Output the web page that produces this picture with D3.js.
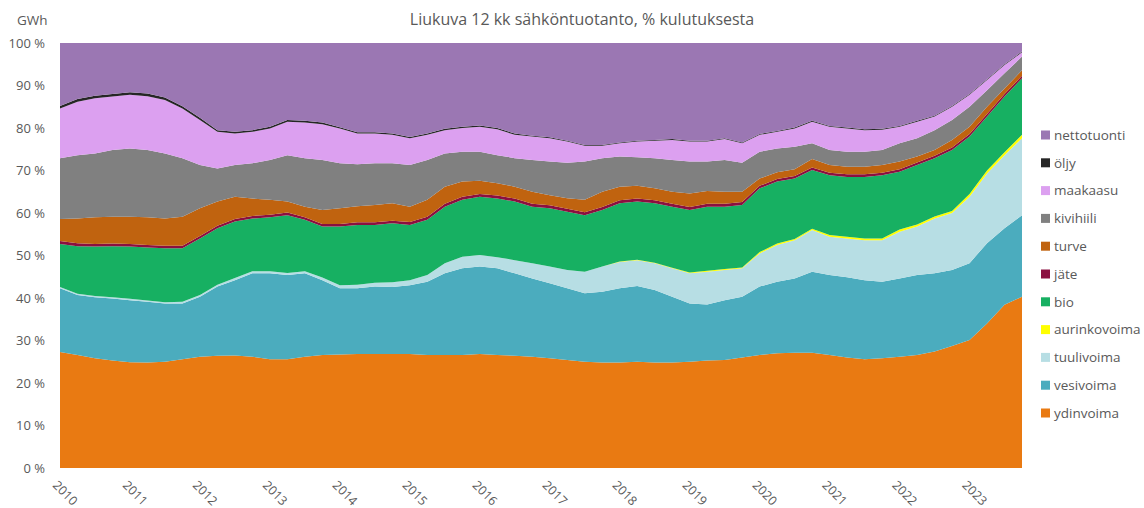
<!DOCTYPE html>
<html lang="fi">
<head>
<meta charset="UTF-8">
<title>Liukuva 12 kk sähköntuotanto</title>
<style>
  body { margin: 0; background: #fff; }
  text { font-family: "Open Sans", "DejaVu Sans", sans-serif; fill: #595959; }
</style>
</head>
<body>
<svg width="1144" height="508"></svg>
<script src="https://d3js.org/d3.v7.min.js"></script>
<script>
// quarterly readings, % of consumption (rolling 12 months)
const dates = [
  "2010-01","2010-04","2010-07","2010-10","2011-01","2011-04","2011-07","2011-10",
  "2012-01","2012-04","2012-07","2012-10","2013-01","2013-04","2013-07","2013-10",
  "2014-01","2014-04","2014-07","2014-10","2015-01","2015-04","2015-07","2015-10",
  "2016-01","2016-04","2016-07","2016-10","2017-01","2017-04","2017-07","2017-10",
  "2018-01","2018-04","2018-07","2018-10","2019-01","2019-04","2019-07","2019-10",
  "2020-01","2020-04","2020-07","2020-10","2021-01","2021-04","2021-07","2021-10",
  "2022-01","2022-04","2022-07","2022-10","2023-01","2023-04","2023-07","2023-10"
];

const ydinvoima = [27.3,26.6,25.8,25.3,24.9,24.8,25.0,25.6,26.2,26.4, 26.5,26.2,25.6,25.6,26.2,26.6,26.7,26.8,26.8,26.8,
  26.8,26.6,26.6,26.6,26.8,26.6,26.4,26.2,25.8,25.4, 25.0,24.8,24.8,25.0,24.8,24.8,25.0,25.3,25.4,26.0,
  26.6,27.0,27.1,27.1,26.6,26.0,25.6,25.8,26.2,26.6, 27.4,28.7,30.1,34.0,38.4,40.3];
const vesivoima = [15.0,14.1,14.4,14.6,14.6,14.3,13.7,13.1,14.1,16.3, 17.7,19.6,20.2,19.8,19.6,17.6,15.6,15.5,15.9,15.8,
  16.2,17.2,19.2,20.4,20.6,20.4,19.4,18.4,17.7,16.9, 16.1,16.7,17.5,17.8,17.1,15.5,13.7,13.2,14.1,14.3,
  16.1,16.8,17.5,19.1,18.8,18.9,18.6,18.0,18.4,18.8, 18.4,17.9,18.1,18.9,18.0,19.2];
const tuulivoima = [0.3,0.3,0.3,0.3,0.3,0.3,0.3,0.4,0.4,0.4, 0.5,0.5,0.5,0.5,0.5,0.6,0.7,0.8,0.9,1.1,
  1.2,1.6,2.4,2.7,2.7,2.6,3.1,3.6,3.9,4.3, 5.1,5.9,6.2,6.1,6.3,6.7,7.1,7.7,7.1,6.7,
  7.8,8.7,9.0,9.8,9.0,9.1,9.4,9.8,11.0,11.4, 12.9,13.4,15.6,16.4,17.2,18.1];
const aurinkovoima = [0,0,0,0,0,0,0,0,0,0, 0,0,0,0,0,0,0,0,0,0,
  0,0,0,0,0,0,0,0,0,0, 0,0,0.1,0.1,0.1,0.1,0.2,0.2,0.2,0.2,
  0.3,0.3,0.3,0.3,0.4,0.4,0.4,0.4,0.5,0.5, 0.5,0.5,0.7,0.7,0.7,0.8];
const bio = [10.1,11.2,11.6,12.0,12.3,12.5,12.7,12.6,13.3,13.3, 13.3,12.4,12.7,13.6,12.1,12.0,13.8,14.1,13.6,13.9,
  13.0,13.0,13.3,13.4,13.7,13.8,13.8,13.3,13.7,13.7, 13.3,13.3,13.7,13.7,14.0,14.4,14.7,15.1,14.7,14.7,
  15.0,14.6,14.2,13.8,14.1,14.1,14.5,14.9,13.6,14.0, 13.7,14.3,13.5,12.7,13.1,13.3];
const jate = [0.7,0.7,0.6,0.6,0.6,0.6,0.6,0.6,0.6,0.6, 0.6,0.6,0.6,0.6,0.6,0.6,0.6,0.6,0.6,0.6,
  0.7,0.7,0.7,0.7,0.7,0.7,0.7,0.7,0.7,0.7, 0.7,0.7,0.7,0.7,0.7,0.7,0.7,0.7,0.7,0.7,
  0.6,0.6,0.6,0.6,0.6,0.6,0.6,0.6,0.6,0.6, 0.6,0.6,0.6,0.6,0.6,0.6];
const turve = [5.2,5.8,6.3,6.3,6.4,6.5,6.4,6.8,6.5,5.7, 5.2,4.1,3.5,2.6,2.5,3.3,3.7,3.8,4.1,4.1,
  3.6,4.0,4.0,3.6,3.1,2.9,2.8,2.8,2.4,2.5, 2.9,3.6,3.2,3.0,2.8,2.8,3.2,3.0,2.8,2.4,
  1.7,1.6,1.6,2.0,1.8,1.8,1.8,1.8,1.8,1.4, 1.3,1.8,1.7,1.7,1.3,1.3];
const kivihiili = [14.3,14.9,15.0,15.7,16.1,15.8,15.3,13.8,10.2,7.8, 7.5,8.3,9.4,10.9,11.4,11.8,10.6,9.9,9.8,9.4,
  9.8,9.4,7.8,7.0,6.8,6.6,6.7,7.5,7.9,8.3, 9.0,7.9,7.1,6.7,7.1,7.5,7.5,6.9,7.5,6.8,
  6.3,5.6,5.3,3.7,3.5,3.5,3.5,3.5,4.3,4.3, 4.7,4.7,4.7,3.9,3.6,3.2];
const maakaasu = [11.7,12.6,13.0,12.6,12.6,12.7,12.6,11.7,10.6,8.6, 7.4,7.4,7.4,7.9,8.4,8.4,8.2,7.2,7.0,6.7,
  6.3,5.9,5.5,5.6,5.9,6.1,5.5,5.5,5.5,5.0, 3.7,2.9,3.1,3.7,4.1,4.7,4.7,4.7,4.9,4.6,
  4.0,3.9,4.3,5.1,5.5,5.5,5.1,4.8,3.9,3.9, 3.2,3.1,2.8,2.4,1.9,1.0];
const oljy = [0.6,0.6,0.6,0.6,0.6,0.6,0.6,0.5,0.5,0.4, 0.4,0.4,0.4,0.4,0.4,0.4,0.3,0.3,0.3,0.3,
  0.3,0.3,0.3,0.3,0.3,0.3,0.3,0.2,0.2,0.2, 0.2,0.2,0.2,0.2,0.2,0.2,0.2,0.2,0.2,0.2,
  0.2,0.2,0.2,0.2,0.2,0.2,0.2,0.2,0.2,0.2, 0.2,0.2,0.2,0.2,0.2,0.2];
const nettotuonti = [14.8,13.2,12.4,12.0,11.6,11.9,12.8,14.9,17.6,20.5, 20.9,20.5,19.7,18.1,18.3,18.7,19.8,21.0,21.0,21.3,
  22.1,21.3,20.2,19.7,19.4,20.0,21.3,21.8,22.2,23.0, 24.0,24.0,23.4,23.0,22.8,22.6,23.0,23.0,22.4,23.4,
  21.4,20.7,19.9,18.3,19.5,19.9,20.3,20.2,19.5,18.3, 17.1,14.8,12.0,8.5,5.0,2.0];

const seriesNames = ["ydinvoima","vesivoima","tuulivoima","aurinkovoima","bio","jäte","turve","kivihiili","maakaasu","öljy","nettotuonti"];
const seriesData = [ydinvoima, vesivoima, tuulivoima, aurinkovoima, bio, jate, turve, kivihiili, maakaasu, oljy, nettotuonti];
const seriesColors = ["#e97a12","#4bacbe","#b7dee4","#ffff00","#17b062","#8b1040","#c0630f","#808080","#dca0f0","#262626","#9b77b3"];
const yearLabels = [2010,2011,2012,2013,2014,2015,2016,2017,2018,2019,2020,2021,2022,2023];
const yTicks = [0,10,20,30,40,50,60,70,80,90,100];

const svg = d3.select("svg");
const plotLeft = 60, plotRight = 1022, plotTop = 43, plotBottom = 468;

const toYear = s => +s.slice(0, 4) + (+s.slice(5, 7) - 1) / 12;

const rows = dates.map((d, i) => {
  const r = { t: toYear(d) };
  seriesNames.forEach((k, j) => r[k] = seriesData[j][i]);
  return r;
});

const x = d3.scaleLinear().domain([2010, toYear(dates[dates.length - 1])]).range([plotLeft, plotRight]);
const y = d3.scaleLinear().domain([0, 100]).range([plotBottom, plotTop]);

const stacked = d3.stack().keys(seriesNames)(rows);

const area = d3.area()
  .x(d => x(d.data.t))
  .y0(d => y(d[0]))
  .y1(d => y(d[1]));

svg.append("g")
  .selectAll("path")
  .data(stacked)
  .join("path")
    .attr("d", area)
    .attr("fill", (d, i) => seriesColors[i]);

// y axis
const yAxis = svg.append("g")
  .attr("transform", `translate(${plotLeft},0)`)
  .call(d3.axisLeft(y).tickValues(yTicks).tickSize(0).tickPadding(15).tickFormat(d => d + " %"));
yAxis.select(".domain").remove();
yAxis.selectAll("text").style("font-size", "13px").attr("fill", "#595959");

svg.append("text")
  .attr("x", 17).attr("y", 25)
  .style("font-size", "13.5px")
  .text("GWh");

// x labels, rotated
svg.append("g")
  .selectAll("text")
  .data(yearLabels)
  .join("text")
    .attr("transform", d => `translate(${x(d) - 8},${486}) rotate(45)`)
    .style("font-size", "12.5px")
    .text(d => d);

// title
svg.append("text")
  .attr("x", 582).attr("y", 25)
  .attr("text-anchor", "middle")
  .style("font-size", "16px")
  .text("Liukuva 12 kk sähköntuotanto, % kulutuksesta");

// legend
const legend = svg.append("g")
  .selectAll("g")
  .data(seriesNames.map((k, i) => ({ k, c: seriesColors[i] })).reverse())
  .join("g")
    .attr("transform", (d, i) => `translate(1041,${135 + i * 27.8})`);
legend.append("rect")
  .attr("x", 0).attr("y", -4.5).attr("width", 9).attr("height", 9)
  .attr("fill", d => d.c);
legend.append("text")
  .attr("x", 13).attr("y", 0).attr("dy", "0.35em")
  .style("font-size", "13.5px")
  .text(d => d.k);
</script>
</body>
</html>
